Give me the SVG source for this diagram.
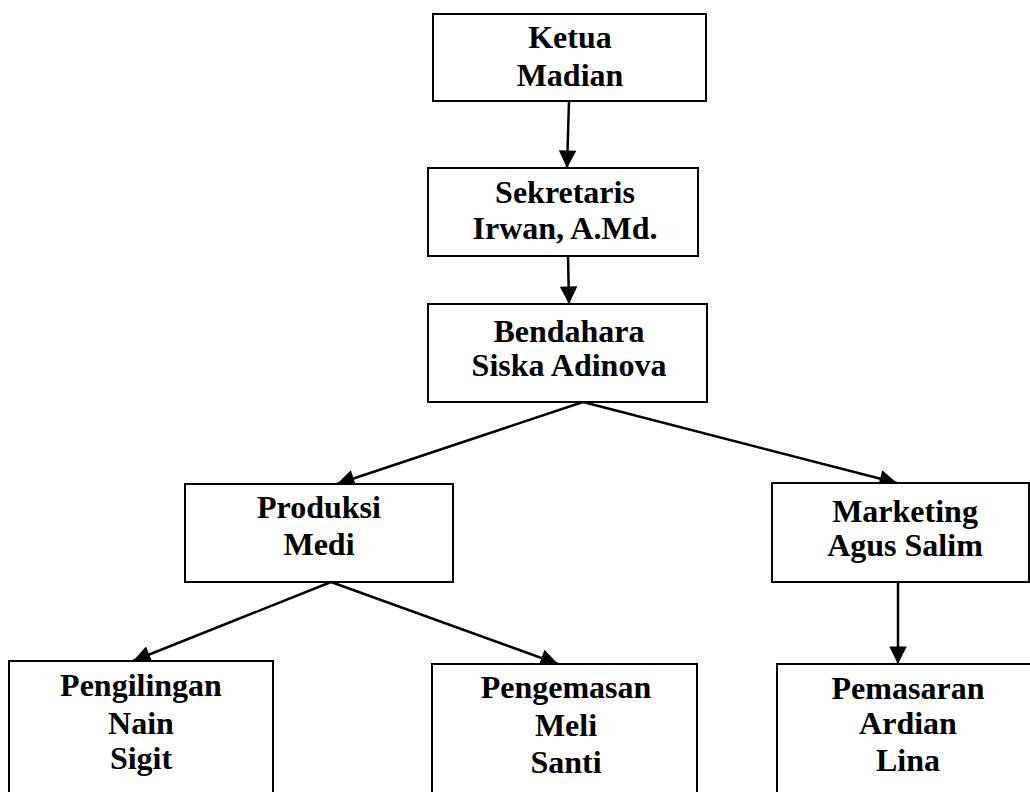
<svg xmlns="http://www.w3.org/2000/svg" width="1030" height="792" viewBox="0 0 1030 792">
<style>
.box{fill:#fff;stroke:#000;stroke-width:2}
.t{font-family:"Liberation Serif","Times New Roman",serif;font-weight:bold;font-size:32px;text-anchor:middle;fill:#000}
.c{stroke:#000;stroke-width:2.5;fill:none;marker-end:url(#ah)}
</style>
<defs>
<marker id="ah" viewBox="0 0 10 10" refX="10" refY="5" markerWidth="8.5" markerHeight="7" markerUnits="strokeWidth" orient="auto">
<path d="M0,0 L10,5 L0,10 z" fill="#000"/>
</marker>
</defs>
<rect width="1030" height="792" fill="#fff"/>
<g id="connectors">
<line class="c" x1="569" y1="101" x2="567" y2="168"/>
<line class="c" x1="568" y1="256" x2="569" y2="304"/>
<line class="c" x1="583" y1="402" x2="337" y2="484"/>
<line class="c" x1="583" y1="402" x2="897" y2="483"/>
<line class="c" x1="331" y1="582" x2="133" y2="661"/>
<line class="c" x1="331" y1="582" x2="558" y2="664"/>
<line class="c" x1="898" y1="582" x2="898" y2="664"/>
</g>
<g id="ketua">
<rect class="box" x="433" y="14" width="273" height="87"/>
<text class="t" x="570" y="48">Ketua</text>
<text class="t" x="570" y="86">Madian</text>
</g>
<g id="sekretaris">
<rect class="box" x="428" y="168" width="270" height="88"/>
<text class="t" x="565" y="203">Sekretaris</text>
<text class="t" x="565" y="239">Irwan, A.Md.</text>
</g>
<g id="bendahara">
<rect class="box" x="428" y="304" width="279" height="98"/>
<text class="t" x="569" y="342">Bendahara</text>
<text class="t" x="569" y="376">Siska Adinova</text>
</g>
<g id="produksi">
<rect class="box" x="185" y="484" width="268" height="98"/>
<text class="t" x="319" y="518">Produksi</text>
<text class="t" x="319" y="555">Medi</text>
</g>
<g id="marketing">
<rect class="box" x="772" y="483" width="257" height="99"/>
<text class="t" x="905" y="522">Marketing</text>
<text class="t" x="905" y="556">Agus Salim</text>
</g>
<g id="pengilingan">
<rect class="box" x="9" y="661" width="264" height="150"/>
<text class="t" x="141" y="696">Pengilingan</text>
<text class="t" x="141" y="734">Nain</text>
<text class="t" x="141" y="769">Sigit</text>
</g>
<g id="pengemasan">
<rect class="box" x="432" y="664" width="265" height="150"/>
<text class="t" x="566" y="698">Pengemasan</text>
<text class="t" x="566" y="736">Meli</text>
<text class="t" x="566" y="773">Santi</text>
</g>
<g id="pemasaran">
<rect class="box" x="777" y="664" width="270" height="150"/>
<text class="t" x="908" y="699">Pemasaran</text>
<text class="t" x="908" y="734">Ardian</text>
<text class="t" x="908" y="771">Lina</text>
</g>
</svg>
